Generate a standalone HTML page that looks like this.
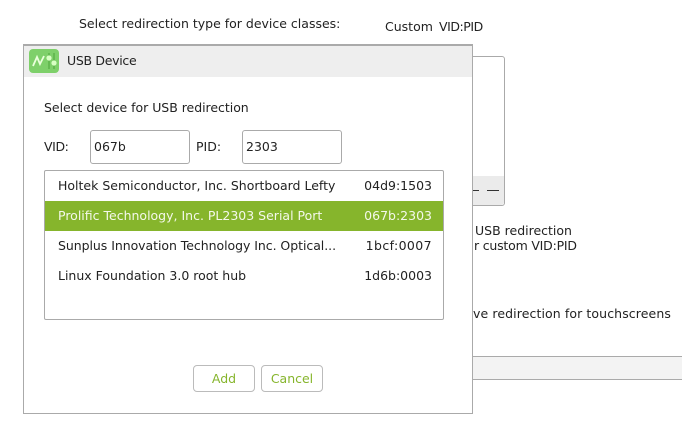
<!DOCTYPE html>
<html><head><meta charset="utf-8"><style>
html,body{margin:0;padding:0;background:#fff}
#p{position:relative;width:682px;height:439px;overflow:hidden;background:#fff;font-family:"DejaVu Sans",sans-serif;font-size:12.5px;color:#222}
.t{position:absolute;white-space:nowrap;line-height:16px}
.b{position:absolute;box-sizing:border-box}
</style></head><body><div id="p">
<div class="t" style="left:79px;top:16px">Select redirection type for device classes:</div>
<div class="t" style="left:385px;top:19px">Custom</div>
<div class="t" style="left:439px;top:19px;letter-spacing:-.45px">VID:PID</div>
<div class="b" style="left:440px;top:56px;width:65px;height:150px;border:1px solid #aaa;border-radius:3px;background:#fff"></div>
<div class="b" style="left:473px;top:176px;width:31px;height:29px;background:#ebebeb;border-radius:0 0 3px 0"></div>
<div class="b" style="left:473px;top:190px;width:6px;height:1px;background:#333"></div>
<div class="b" style="left:487px;top:190px;width:12px;height:1px;background:#333"></div>
<div class="t" style="left:475px;top:223px">USB redirection</div>
<div class="t" style="left:474px;top:238px;letter-spacing:-.2px">r custom VID:PID</div>
<div class="t" style="left:473px;top:306px;letter-spacing:.1px">ve redirection for touchscreens</div>
<div class="b" style="left:470px;top:356px;width:212px;height:24px;background:#f3f3f3;border-top:1px solid #aaa;border-bottom:1px solid #aaa"></div>

<div class="b" style="left:23px;top:44px;width:450px;height:370px;background:#fff;border:1px solid #aaa;border-top:2px solid #aaa"></div>
<div class="b" style="left:24px;top:46px;width:448px;height:31px;background:#eee"></div>
<div class="b" style="left:29px;top:49px;width:30px;height:24px;background:#7ed06a;border-radius:4px"></div>
<svg style="position:absolute;left:29px;top:49px" width="30" height="24" viewBox="0 0 30 24"><path d="M4 17 L8 8 L11 15 L15 7" fill="none" stroke="#eaffdc" stroke-width="1.8"/><path d="M20 4V20M25 4V20" stroke="#5fb54d" stroke-width="1.6"/><circle cx="20" cy="9" r="2.6" fill="#d8ffc4"/><circle cx="25" cy="14" r="2.6" fill="#d8ffc4"/></svg>
<div class="t" style="left:67px;top:53px;letter-spacing:-.3px">USB Device</div>
<div class="t" style="left:44px;top:100px;letter-spacing:-.03px">Select device for USB redirection</div>
<div class="t" style="left:44px;top:139px;letter-spacing:-.4px">VID:</div>
<div class="b" style="left:90px;top:130px;width:100px;height:34px;border:1px solid #aaa;border-radius:3px"></div>
<div class="t" style="left:94px;top:139px">067b</div>
<div class="t" style="left:196px;top:139px">PID:</div>
<div class="b" style="left:242px;top:130px;width:100px;height:34px;border:1px solid #aaa;border-radius:3px"></div>
<div class="t" style="left:246px;top:139px">2303</div>

<div class="b" style="left:44px;top:170px;width:400px;height:150px;border:1px solid #aaa;border-radius:2px"></div>
<div class="b" style="left:45px;top:201px;width:398px;height:30px;background:#86b52c"></div>
<div class="t" style="left:58px;top:178px">Holtek Semiconductor, Inc. Shortboard Lefty</div>
<div class="t" style="right:250px;top:178px">04d9:1503</div>
<div class="t" style="left:58px;top:208px;color:#f4f8ea">Prolific Technology, Inc. PL2303 Serial Port</div>
<div class="t" style="right:250px;top:208px;color:#f4f8ea">067b:2303</div>
<div class="t" style="left:58px;top:238px;letter-spacing:-.05px">Sunplus Innovation Technology Inc. Optical...</div>
<div class="t" style="right:250px;top:238px;letter-spacing:.4px">1bcf:0007</div>
<div class="t" style="left:58px;top:268px">Linux Foundation 3.0 root hub</div>
<div class="t" style="right:250px;top:268px">1d6b:0003</div>

<div class="b" style="left:193px;top:365px;width:62px;height:27px;border:1px solid #bbb;border-radius:4px;color:#86b52c;text-align:center;line-height:26px">Add</div>
<div class="b" style="left:261px;top:365px;width:62px;height:27px;border:1px solid #bbb;border-radius:4px;color:#86b52c;text-align:center;line-height:26px">Cancel</div>
</div></body></html>
